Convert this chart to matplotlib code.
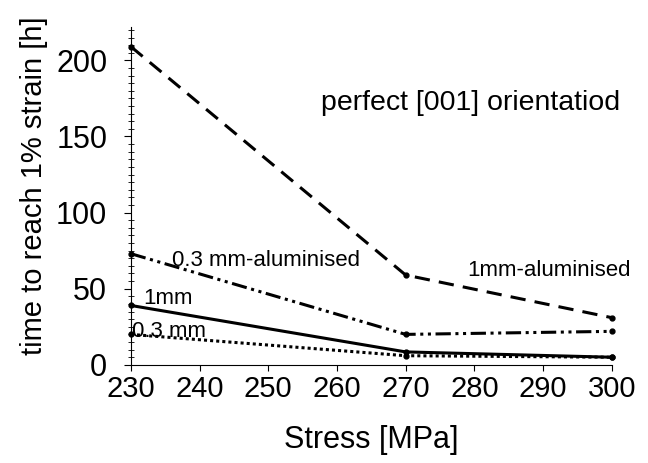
import matplotlib
matplotlib.use("Agg")
import matplotlib.pyplot as plt
from matplotlib.ticker import MultipleLocator

plt.rcParams['font.family'] = ['Liberation Sans', 'DejaVu Sans']

stress = [230, 270, 300]
al_1mm = [209, 59, 31]
al_03mm = [73, 20, 22]
plain_1mm = [39, 8.5, 5]
plain_03mm = [20, 6, 5]

fig = plt.figure(figsize=(6.48, 4.63), dpi=100)
ax = fig.add_axes([0.202, 0.212, 0.742, 0.73])

lw = 2.2
ax.plot(stress, al_1mm, color='black', ls=(0, (5, 3)), lw=lw, marker='o', ms=3.5, clip_on=False)
ax.plot(stress, al_03mm, color='black', ls=(0, (5, 1.5, 1, 1.5, 1, 1.5)), lw=lw, marker='o', ms=3.5, clip_on=False)
ax.plot(stress, plain_1mm, color='black', ls='-', lw=lw, marker='o', ms=3.5, clip_on=False)
ax.plot(stress, plain_03mm, color='black', ls=(0, (1, 1)), lw=lw, marker='o', ms=3.5, clip_on=False)

ax.set_xlim(230, 300)
ax.set_ylim(0, 222)
ax.xaxis.set_major_locator(MultipleLocator(10))
ax.yaxis.set_major_locator(MultipleLocator(50))
ax.yaxis.set_minor_locator(MultipleLocator(5))
ax.spines['top'].set_visible(False)
ax.spines['right'].set_visible(False)
ax.tick_params(axis='x', labelsize=21, direction='out', length=4, pad=3)
ax.tick_params(axis='y', which='major', labelsize=22, direction='out', length=5, pad=12)
ax.tick_params(axis='y', which='minor', direction='inout', length=5)

ax.set_xlabel('Stress [MPa]', fontsize=22, labelpad=16)
ax.set_ylabel('time to reach 1% strain [h]', fontsize=21)
ax.yaxis.set_label_coords(-0.172, 0.53)

ax.text(0.395, 0.775, 'perfect [001] orientatiod', transform=ax.transAxes, fontsize=20.5, va='center')
ax.text(0.085, 0.31, '0.3 mm-aluminised', transform=ax.transAxes, fontsize=16, va='center')
ax.text(0.70, 0.28, '1mm-aluminised', transform=ax.transAxes, fontsize=16, va='center')
ax.text(0.026, 0.195, '1mm', transform=ax.transAxes, fontsize=16, va='center')
ax.text(0.003, 0.10, '0.3 mm', transform=ax.transAxes, fontsize=16, va='center')

fig.savefig('out.png', dpi=100)
